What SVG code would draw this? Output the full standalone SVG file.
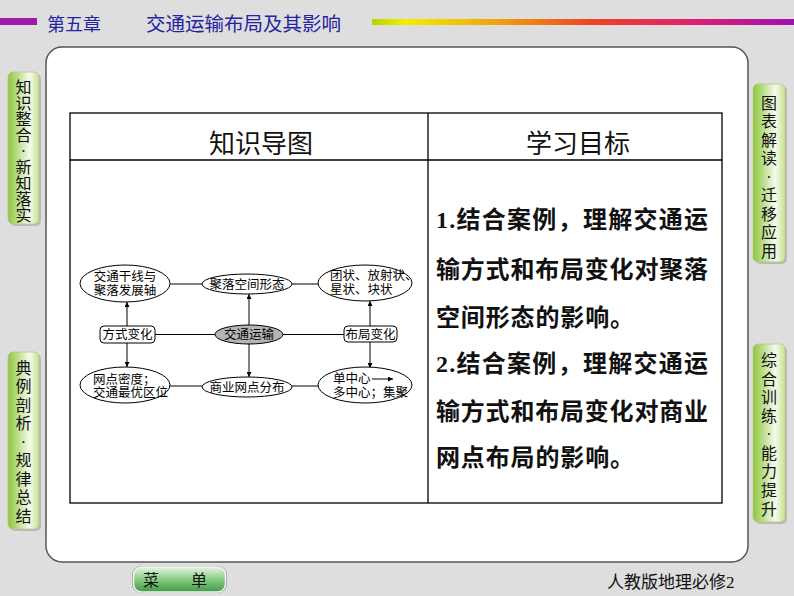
<svg xmlns="http://www.w3.org/2000/svg" width="794" height="596" viewBox="0 0 794 596">
<defs>
<linearGradient id="rainbow" x1="0" y1="0" x2="1" y2="0">
<stop offset="0" stop-color="#b8d400"/>
<stop offset="0.08" stop-color="#f2ee00"/>
<stop offset="0.3" stop-color="#f0a010"/>
<stop offset="0.52" stop-color="#ee4422"/>
<stop offset="0.75" stop-color="#e02070"/>
<stop offset="1" stop-color="#a010b0"/>
</linearGradient>
<linearGradient id="tabL" x1="0" y1="0" x2="1" y2="0">
<stop offset="0" stop-color="#8cc53a"/>
<stop offset="0.7" stop-color="#f6fbec"/>
<stop offset="1" stop-color="#c7e28c"/>
</linearGradient>
<linearGradient id="tabR" x1="0" y1="0" x2="1" y2="0">
<stop offset="0" stop-color="#8cc53a"/>
<stop offset="0.7" stop-color="#f6fbec"/>
<stop offset="1" stop-color="#c7e28c"/>
</linearGradient>
<linearGradient id="btn" x1="0" y1="0" x2="0" y2="1">
<stop offset="0" stop-color="#e4f6df"/>
<stop offset="0.45" stop-color="#8fd08a"/>
<stop offset="1" stop-color="#3f9a45"/>
</linearGradient>
<marker id="arr" viewBox="0 0 8 8" refX="8" refY="4" markerWidth="5" markerHeight="5" orient="auto" markerUnits="userSpaceOnUse">
<path d="M0,0 L8,4 L0,8 Z" fill="#000"/>
</marker>
<style>
.hdr{font-family:"Liberation Serif","Noto Sans CJK SC",serif;fill:#2424a0}
.tab{fill:url(#tabL);stroke:#b5c98a;stroke-width:0.8}
.tabs{fill:#b9b9b9}
.tt{font-family:"Liberation Serif","Noto Sans CJK SC",serif;font-size:16px;fill:#111;text-anchor:middle}
.tbl{fill:none;stroke:#000;stroke-width:1.3}
.th{font-family:"Noto Sans CJK SC",sans-serif;font-size:26px;fill:#111;text-anchor:middle}
.goal{font-family:"Liberation Serif","Noto Sans CJK SC",serif;font-size:24px;font-weight:bold;fill:#111}
.nd{fill:#fff;stroke:#000;stroke-width:1}
.dt{font-family:"Liberation Serif","Noto Sans CJK SC",serif;font-size:12.5px;fill:#000}
.c{text-anchor:middle}
.ln{stroke:#000;stroke-width:1;fill:none}
</style>
</defs>
<rect x="0" y="0" width="794" height="596" fill="#dedede"/>
<!-- header -->
<rect x="0" y="18" width="37" height="7" fill="#a218a8"/>
<rect x="372" y="19" width="422" height="6" fill="url(#rainbow)"/>
<text class="hdr" x="47" y="31" font-size="18">第五章</text>
<text class="hdr" x="146" y="31" font-size="19.5">交通运输布局及其影响</text>
<!-- main panel -->
<rect x="46" y="47" width="702" height="515" rx="16" fill="#fff" stroke="#555" stroke-width="1.5"/>
<!-- side tabs -->
<g id="tab-left-1">
<rect class="tabs" x="10" y="74" width="31" height="152" rx="5"/>
<rect class="tab" x="8" y="72" width="31" height="152" rx="5"/>
<text class="tt" x="23.5" y="93">知</text><text class="tt" x="23.5" y="109">识</text><text class="tt" x="23.5" y="125">整</text><text class="tt" x="23.5" y="141">合</text><text class="tt" x="23.5" y="157">·</text><text class="tt" x="23.5" y="173">新</text><text class="tt" x="23.5" y="189">知</text><text class="tt" x="23.5" y="205">落</text><text class="tt" x="23.5" y="221">实</text>
</g>
<g id="tab-left-2">
<rect class="tabs" x="10" y="354" width="31" height="177" rx="5"/>
<rect class="tab" x="8" y="352" width="31" height="177" rx="5"/>
<text class="tt" x="23.5" y="374">典</text><text class="tt" x="23.5" y="392">例</text><text class="tt" x="23.5" y="411">剖</text><text class="tt" x="23.5" y="429">析</text><text class="tt" x="23.5" y="448">·</text><text class="tt" x="23.5" y="466">规</text><text class="tt" x="23.5" y="485">律</text><text class="tt" x="23.5" y="503">总</text><text class="tt" x="23.5" y="522">结</text>
</g>
<g id="tab-right-1">
<rect class="tabs" x="755" y="86" width="32" height="178" rx="5"/>
<rect class="tab" x="753" y="84" width="32" height="178" rx="5"/>
<text class="tt" x="769" y="109">图</text><text class="tt" x="769" y="127">表</text><text class="tt" x="769" y="146">解</text><text class="tt" x="769" y="164">读</text><text class="tt" x="769" y="183">·</text><text class="tt" x="769" y="201">迁</text><text class="tt" x="769" y="220">移</text><text class="tt" x="769" y="238">应</text><text class="tt" x="769" y="257">用</text>
</g>
<g id="tab-right-2">
<rect class="tabs" x="755" y="346" width="32" height="178" rx="5"/>
<rect class="tab" x="753" y="344" width="32" height="178" rx="5"/>
<text class="tt" x="769" y="366">综</text><text class="tt" x="769" y="385">合</text><text class="tt" x="769" y="403">训</text><text class="tt" x="769" y="422">练</text><text class="tt" x="769" y="440">·</text><text class="tt" x="769" y="459">能</text><text class="tt" x="769" y="477">力</text><text class="tt" x="769" y="496">提</text><text class="tt" x="769" y="515">升</text>
</g>
<!-- table -->
<g id="table">
<rect class="tbl" x="70" y="113" width="652" height="390"/>
<line class="tbl" x1="70" y1="160" x2="722" y2="160"/>
<line class="tbl" x1="428" y1="113" x2="428" y2="503"/>
<text class="th" x="261" y="153">知识导图</text>
<text class="th" x="578" y="153">学习目标</text>
</g>
<g id="goals">
<text class="goal" x="436" y="228" textLength="272" lengthAdjust="spacing">1.结合案例，理解交通运</text>
<text class="goal" x="436" y="278" textLength="272" lengthAdjust="spacing">输方式和布局变化对聚落</text>
<text class="goal" x="436" y="326" textLength="198" lengthAdjust="spacing">空间形态的影响。</text>
<text class="goal" x="436" y="372" textLength="272" lengthAdjust="spacing">2.结合案例，理解交通运</text>
<text class="goal" x="436" y="420" textLength="272" lengthAdjust="spacing">输方式和布局变化对商业</text>
<text class="goal" x="436" y="466" textLength="198" lengthAdjust="spacing">网点布局的影响。</text>
</g>
<!-- connectors -->
<g id="connectors">
<line class="ln" x1="170" y1="284" x2="202" y2="284"/>
<line class="ln" x1="292" y1="284" x2="318" y2="284"/>
<line class="ln" x1="155" y1="334.5" x2="215" y2="334.5"/>
<line class="ln" x1="283" y1="334.5" x2="344" y2="334.5"/>
<line class="ln" x1="170" y1="386" x2="202" y2="386"/>
<line class="ln" x1="292" y1="386" x2="318" y2="386"/>
<line class="ln" x1="127" y1="326" x2="127" y2="302" marker-end="url(#arr)"/>
<line class="ln" x1="127" y1="343" x2="127" y2="367" marker-end="url(#arr)"/>
<line class="ln" x1="249" y1="325" x2="249" y2="294" marker-end="url(#arr)"/>
<line class="ln" x1="249" y1="344" x2="249" y2="377" marker-end="url(#arr)"/>
<line class="ln" x1="370" y1="326" x2="370" y2="301" marker-end="url(#arr)"/>
<line class="ln" x1="370" y1="342" x2="370" y2="368" marker-end="url(#arr)"/>
</g>
<!-- nodes -->
<g id="n-axis">
<ellipse class="nd" cx="125" cy="283.5" rx="45" ry="18.5"/>
<text class="dt c" x="125" y="281">交通干线与</text>
<text class="dt c" x="125" y="295">聚落发展轴</text>
</g>
<g id="n-form">
<ellipse class="nd" cx="247" cy="284" rx="45" ry="10"/>
<text class="dt c" x="247" y="289">聚落空间形态</text>
</g>
<g id="n-shape">
<ellipse class="nd" cx="365" cy="283" rx="47" ry="18"/>
<text class="dt" x="330" y="280">团状、放射状、</text>
<text class="dt" x="330" y="294">星状、块状</text>
</g>
<g id="n-mode">
<rect class="nd" x="100" y="326" width="55" height="17" rx="4"/>
<text class="dt c" x="127.5" y="339">方式变化</text>
</g>
<g id="n-transport">
<ellipse cx="249" cy="334.5" rx="34" ry="9.5" fill="#b4b4b4" stroke="#000" stroke-width="1"/>
<text class="dt c" x="249" y="339">交通运输</text>
</g>
<g id="n-layout">
<rect class="nd" x="344" y="326" width="53" height="16" rx="4"/>
<text class="dt c" x="370.5" y="339">布局变化</text>
</g>
<g id="n-density">
<ellipse class="nd" cx="125" cy="385" rx="45" ry="18"/>
<text class="dt" x="93" y="384">网点密度；</text>
<text class="dt" x="93" y="397">交通最优区位</text>
</g>
<g id="n-commerce">
<ellipse class="nd" cx="247" cy="387" rx="45" ry="10"/>
<text class="dt c" x="247" y="392">商业网点分布</text>
</g>
<g id="n-center">
<ellipse class="nd" cx="365" cy="385" rx="47" ry="18"/>
<text class="dt" x="333" y="383">单中心</text>
<line class="ln" x1="372" y1="379" x2="393" y2="379" marker-end="url(#arr)"/>
<text class="dt" x="333" y="397">多中心；集聚</text>
</g>
<!-- footer -->
<g id="menu-button">
<rect x="132" y="566" width="95" height="27" rx="9" fill="#9a9a9a"/>
<rect x="133.5" y="567" width="92" height="25" rx="8" fill="url(#btn)" stroke="#f4f4f4" stroke-width="1.5"/>
<text x="151" y="586" font-family="'Liberation Serif','Noto Sans CJK SC',serif" font-size="16" fill="#111" text-anchor="middle">菜</text>
<text x="199" y="586" font-family="'Liberation Serif','Noto Sans CJK SC',serif" font-size="16" fill="#111" text-anchor="middle">单</text>
</g>
<text x="607" y="588" font-family="'Liberation Serif','Noto Sans CJK SC',serif" font-size="17" fill="#111">人教版地理必修2</text>
</svg>
